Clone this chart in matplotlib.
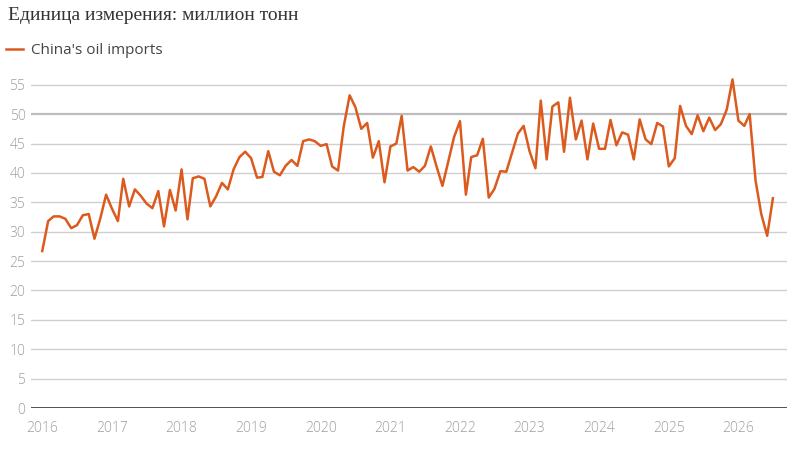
import matplotlib
matplotlib.use('Agg')
import matplotlib.pyplot as plt
import matplotlib.dates as mdates
import pandas as pd

# monthly imports, million tonnes, Jan 2016 - Jul 2026
values_2016 = [26.7, 31.8, 32.6, 32.6, 32.2, 30.6, 31.1, 32.8, 33.0, 28.8, 32.3, 36.3]
values_2017 = [33.9, 31.8, 39.0, 34.3, 37.2, 36.1, 34.8, 34.0, 36.9, 30.9, 37.1, 33.6]
values_2018 = [40.6, 32.1, 39.1, 39.4, 39.0, 34.3, 36.0, 38.3, 37.2, 40.6, 42.7, 43.6]
values_2019 = [42.5, 39.2, 39.3, 43.7, 40.2, 39.6, 41.2, 42.2, 41.2, 45.4, 45.7, 45.4]
values_2020 = [44.6, 44.9, 41.1, 40.4, 47.9, 53.2, 51.2, 47.5, 48.5, 42.6, 45.4, 38.4]
values_2021 = [44.5, 45.0, 49.7, 40.4, 41.0, 40.2, 41.2, 44.5, 41.0, 37.8, 42.0, 46.1]
values_2022 = [48.8, 36.3, 42.7, 43.0, 45.8, 35.8, 37.3, 40.3, 40.2, 43.4, 46.7, 48.0]
values_2023 = [43.7, 40.8, 52.3, 42.3, 51.3, 52.0, 43.6, 52.8, 45.7, 48.9, 42.3, 48.4]
values_2024 = [44.1, 44.1, 49.0, 44.7, 46.9, 46.5, 42.3, 49.1, 45.7, 44.9, 48.5, 47.9]
values_2025 = [41.1, 42.5, 51.4, 48.0, 46.6, 49.8, 47.1, 49.4, 47.3, 48.3, 50.8, 55.9]
values_2026 = [48.9, 48.0, 50.0, 38.7, 33.0, 29.3, 35.7]

imports = (values_2016 + values_2017 + values_2018 + values_2019 + values_2020 +
           values_2021 + values_2022 + values_2023 + values_2024 + values_2025 + values_2026)
dates = pd.date_range('2016-01-01', periods=len(imports), freq='MS')
y_ticks = list(range(0, 56, 5))

fig = plt.figure(figsize=(8.01, 4.5), dpi=100)
ax = fig.add_axes([31 / 801, 1 - 408 / 450, (787 - 31) / 801, (408 - 73) / 450])

ax.plot(dates, imports, color='#dc5a1e', linewidth=1.8, label="China's oil imports",
        solid_joinstyle='round', zorder=3)

ax.set_ylim(0, 57)
ax.set_xlim(pd.Timestamp('2015-11-03'), pd.Timestamp('2026-09-13'))

ax.set_yticks(y_ticks)
for t in y_ticks[1:]:
    if t == 50:
        ax.axhline(t, color='#bdbdbd', linewidth=1.6, zorder=1)
    else:
        ax.axhline(t, color='#d0d0d0', linewidth=1.0, zorder=1)
ax.axhline(0, color='#333333', linewidth=1.2, zorder=2)

ax.xaxis.set_major_locator(mdates.YearLocator())
ax.xaxis.set_major_formatter(mdates.DateFormatter('%Y'))

for s in ax.spines.values():
    s.set_visible(False)
ax.tick_params(axis='both', length=0, labelsize=10, labelcolor='#9e9e9e')
ax.tick_params(axis='x', pad=9)
ax.tick_params(axis='y', pad=4)
for lbl in ax.get_xticklabels() + ax.get_yticklabels():
    lbl.set_fontfamily('Open Sans')
    lbl.set_fontweight('light')

fig.text(8 / 801, 1 - 15 / 450, 'Единица измерения: миллион тонн', family='Liberation Serif',
         fontsize=14, color='#333333', va='center', ha='left')

leg = fig.legend(loc='center left', bbox_to_anchor=(0 / 801, 1 - 51 / 450), frameon=False,
                 handlelength=1.1, handletextpad=0.5, borderaxespad=0,
                 prop={'family': 'Open Sans', 'size': 11})
for txt in leg.get_texts():
    txt.set_color('#444444')

fig.savefig('out.png', dpi=100)
plt.close()
